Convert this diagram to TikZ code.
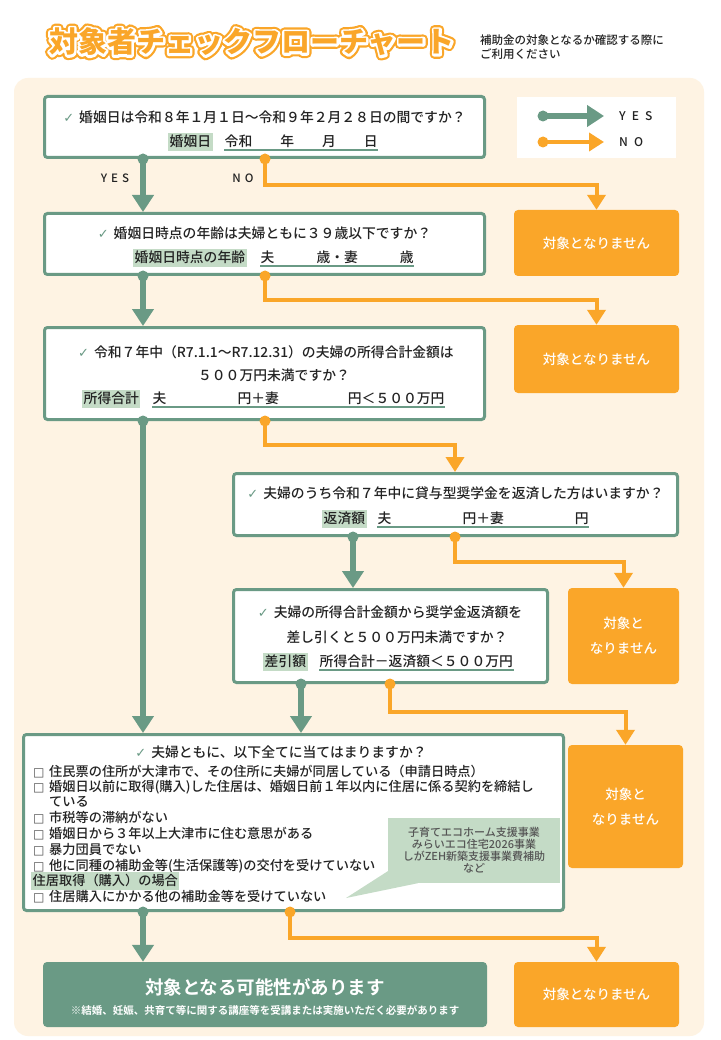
\documentclass[tikz,border=0pt]{standalone}
\usepackage{fontspec}
\setmainfont{Noto Sans CJK JP Medium}[BoldFont={Noto Sans CJK JP Bold}]
\newfontfamily\ttlfont{Noto Sans CJK JP Black}
\newfontfamily\symfont{DejaVu Sans}
\usetikzlibrary{arrows.meta}
\definecolor{gC}{RGB}{106,154,133}
\definecolor{oC}{RGB}{250,166,41}
\definecolor{creamC}{RGB}{254,243,227}
\definecolor{lblC}{RGB}{196,219,198}
\definecolor{txtC}{RGB}{35,35,35}
\definecolor{noteC}{RGB}{85,85,85}
\newcommand{\ckm}{{\symfont\color{gC}\fontsize{13}{13}\selectfont ✓}\hspace{5pt}}
\newcommand{\cbx}{\makebox[16pt][l]{\symfont\color{txtC!80}\fontsize{12}{12}\selectfont □}}
\newcommand{\strk}[2]{\special{pdf:literal direct 2 Tr #1 w 1 j}#2\special{pdf:literal direct 0 Tr}}
\tikzset{
    qbox/.style = {rectangle, draw=gC, line width=3pt, fill=white, rounded corners=3pt},
    nobox/.style = {rectangle, fill=oC, rounded corners=4pt, text=white, align=center, font=\fontsize{13.5}{25}\selectfont},
    okbox/.style = {rectangle, fill=gC, rounded corners=4pt},
    qtext/.style = {text=txtC, inner sep=0pt, font=\fontsize{13.8}{16}\selectfont},
    itext/.style = {text=txtC, inner sep=0pt, anchor=west, font=\fontsize{13.2}{16}\selectfont},
    lbl/.style = {fill=lblC, text=txtC, inner sep=1.5pt, text height=11.5pt, text depth=3pt, anchor=west, font=\fontsize{13.8}{16}\selectfont},
    field/.style = {text=txtC, inner sep=0.5pt, text height=11.5pt, text depth=3pt, anchor=west, font=\fontsize{13.8}{16}\selectfont},
    uline/.style = {draw=gC, line width=1.5pt},
    yes/.style = {draw=gC, line width=6pt, -{Triangle[width=21pt, length=17pt]}},
    no/.style = {draw=oC, line width=4pt, -{Triangle[width=18pt, length=15pt]}},
    ydot/.style = {fill=gC},
    ndot/.style = {fill=oC},
    ttl/.style = {inner sep=0pt, font=\ttlfont\fontsize{29}{29}\selectfont},
    yn/.style = {text=txtC, inner sep=0pt, font=\fontsize{11.5}{12}\selectfont}
}

\begin{document}
\begin{tikzpicture}[x=1pt, y=-1pt]
	\useasboundingbox (0,0) rectangle (720,1040);
	\fill[white] (0,0) rectangle (720,1040);
	\fill[creamC, rounded corners=14pt] (14,78) rectangle (704,1036);

	\node[ttl, text=oC] (title0) at (252,42) {\strk{9}{対象者チェックフローチャート}};
	\node[ttl, text=white] (title1) at (title0) {\strk{4.6}{対象者チェックフローチャート}};
	\node[ttl, text=oC] (title) at (title0) {対象者チェックフローチャート};
	\node[anchor=west, align=left, text=txtC, inner sep=0pt, font=\fontsize{11.5}{14}\selectfont] (hint) at (480,47) {補助金の対象となるか確認する際に\\ご利用ください};

	\node[rectangle, fill=white, minimum width=159pt, minimum height=61pt] (legend) at (596.5,127.5) {};
	\node[yn, anchor=west, font=\fontsize{12}{12}\selectfont] (lgy) at (619,116) {Y\hspace{6pt}E\hspace{6pt}S};
	\node[yn, anchor=west, font=\fontsize{12}{12}\selectfont] (lgn) at (619,142) {N\hspace{6pt}O};
	\coordinate (ly) at (543,116);
	\coordinate (ln) at (543,142);
	\draw[yes] (ly) -- ([xshift=-15pt]lgy.west);
	\draw[no] (ln) -- ([xshift=-15pt]lgn.west -| lgy.west);
	\fill[ydot] (ly) circle (5.5);
	\fill[ndot] (ln) circle (5.5);

	\node[qbox, minimum width=440pt, minimum height=61pt] (q1) at (264.5,127) {};
	\node[qbox, minimum width=440pt, minimum height=61pt] (q2) at (264.5,244) {};
	\node[qbox, minimum width=440pt, minimum height=92pt] (q3) at (264.5,373.5) {};
	\node[qbox, minimum width=444pt, minimum height=62pt] (q4) at (455.5,504.5) {};
	\node[qbox, minimum width=314pt, minimum height=93pt] (q5) at (390.5,636) {};
	\node[qbox, minimum width=540pt, minimum height=176pt] (q6) at (293.5,822.5) {};
	\node[okbox, minimum width=444pt, minimum height=65pt] (ok) at (265,994.5) {};

	\node[nobox, minimum width=165pt, minimum height=66pt] (n1) at (596.5,243) {対象となりません};
	\node[nobox, minimum width=165pt, minimum height=68pt] (n2) at (596.5,359) {対象となりません};
	\node[nobox, minimum width=111pt, minimum height=96pt] (n3) at (623.5,636) {対象と\\なりません};
	\node[nobox, minimum width=115pt, minimum height=123pt] (n4) at (625.5,806.5) {対象と\\なりません};
	\node[nobox, minimum width=165pt, minimum height=65pt] (n5) at (596.5,994.5) {対象となりません};

	\node[qtext] (q1t) at (264.5,117) {\ckm 婚姻日は令和８年１月１日～令和９年２月２８日の間ですか？};
	\node[lbl] (q1l) at (168,142) {婚姻日};
	\node[field] (q1f) at (224,142) {令和\hspace{28pt}年\hspace{28pt}月\hspace{28pt}日};
	\draw[uline] (q1f.south west) -- (q1f.south east);

	\node[qtext] (q2t) at (264.5,233) {\ckm 婚姻日時点の年齢は夫婦ともに３９歳以下ですか？};
	\node[lbl] (q2l) at (133,258) {婚姻日時点の年齢};
	\node[field] (q2f) at (260,258) {夫\hspace{42pt}歳・妻\hspace{42pt}歳};
	\draw[uline] (q2f.south west) -- (q2f.south east);

	\node[qtext] (q3t) at (266,352) {\ckm 令和７年中（R7.1.1～R7.12.31）の夫婦の所得合計金額は};
	\node[qtext] (q3u) at (274,375) {５００万円未満ですか？};
	\node[lbl] (q3l) at (82,399) {所得合計};
	\node[field] (q3f) at (152,399) {夫\hspace{71pt}円＋妻\hspace{69pt}円＜５００万円};
	\draw[uline] (q3f.south west) -- (q3f.south east);

	\node[qtext] (q4t) at (455.5,493) {\ckm 夫婦のうち令和７年中に貸与型奨学金を返済した方はいますか？};
	\node[lbl] (q4l) at (322,519) {返済額};
	\node[field] (q4f) at (377,519) {夫\hspace{71pt}円＋妻\hspace{71pt}円};
	\draw[uline] (q4f.south west) -- (q4f.south east);

	\node[qtext] (q5t) at (390,612) {\ckm 夫婦の所得合計金額から奨学金返済額を};
	\node[qtext] (q5u) at (397,637) {差し引くと５００万円未満ですか？};
	\node[lbl] (q5l) at (263,662) {差引額};
	\node[field] (q5f) at (319,662) {所得合計－返済額＜５００万円};
	\draw[uline] (q5f.south west) -- (q5f.south east);

	\node[qtext] (q6t) at (281,752) {\ckm 夫婦ともに、以下全てに当てはまりますか？};
	\node[itext] (c1) at (33,772) {\cbx 住民票の住所が大津市で、その住所に夫婦が同居している（申請日時点）};
	\node[itext] (c2) at (33,787) {\cbx 婚姻日以前に取得(購入)した住居は、婚姻日前１年以内に住居に係る契約を締結し};
	\node[itext] (c2b) at (49,802) {ている};
	\node[itext] (c3) at (33,818) {\cbx 市税等の滞納がない};
	\node[itext] (c4) at (33,834) {\cbx 婚姻日から３年以上大津市に住む意思がある};
	\node[itext] (c5) at (33,850) {\cbx 暴力団員でない};
	\node[itext] (c6) at (33,866) {\cbx 他に同種の補助金等(生活保護等)の交付を受けていない};
	\node[lbl, font=\fontsize{13.2}{16}\selectfont] (q6l) at (31,881) {住居取得（購入）の場合};
	\node[itext] (c7) at (33,897) {\cbx 住居購入にかかる他の補助金等を受けていない};

	\node[rectangle, fill=lblC, minimum width=172pt, minimum height=65pt, text=noteC, align=center, font=\fontsize{11}{12}\selectfont] (note) at (474,850.5) {子育てエコホーム支援事業\\みらいエコ住宅2026事業\\しがZEH新築支援事業費補助\\など};
	\coordinate (tip) at (346,898);
	\fill[lblC] ([yshift=12pt]note.south west) -- (tip) -- ([xshift=30pt]note.south west) -- cycle;

	\node[text=white, inner sep=0pt, font=\fontsize{18.5}{20}\selectfont\bfseries] (ok1) at (265,987) {対象となる可能性があります};
	\node[text=white, inner sep=0pt, font=\fontsize{10.5}{12}\selectfont\bfseries] (ok2) at (265,1010) {※結婚、妊娠、共育て等に関する講座等を受講または実施いただく必要があります};

	\node[yn] (yesl) at (115,178) {Y\hspace{4pt}E\hspace{4pt}S};
	\node[yn] (nol) at (243,178) {N\hspace{4pt}O};

	\coordinate (g1) at (143,0);
	\coordinate (o1) at (265,0);
	\coordinate (g4) at (353,0);
	\coordinate (o4) at (455,0);
	\coordinate (g5) at (301,0);
	\coordinate (o5) at (390,0);
	\coordinate (o6) at (290,0);

	\draw[yes] (q1.south -| g1) -- (q2.north -| g1);
	\draw[yes] (q2.south -| g1) -- (q3.north -| g1);
	\draw[yes] (q3.south -| g1) -- (q6.north -| g1);
	\draw[yes] (q4.south -| g4) -- (q5.north -| g4);
	\draw[yes] (q5.south -| g5) -- (q6.north -| g5);
	\draw[yes] (q6.south -| g1) -- (ok.north -| g1);

	\draw[no] (q1.south -| o1) -- ++(0,26) -| (n1.north);
	\draw[no] (q2.south -| o1) -- ++(0,24) -| (n2.north);
	\draw[no] (q3.south -| o1) -- ++(0,24) -| (q4.north -| o4);
	\draw[no] (q4.south -| o4) -- ++(0,25) -| (n3.north);
	\draw[no] (q5.south -| o5) -- ++(0,28) -| (n4.north);
	\draw[no] (q6.south -| o6) -- ++(0,26) -| (n5.north);

	\fill[ydot] (q1.south -| g1) circle (5.5);
	\fill[ydot] (q2.south -| g1) circle (5.5);
	\fill[ydot] (q3.south -| g1) circle (5.5);
	\fill[ydot] (q4.south -| g4) circle (5.5);
	\fill[ydot] (q5.south -| g5) circle (5.5);
	\fill[ydot] (q6.south -| g1) circle (5.5);
	\fill[ndot] (q1.south -| o1) circle (5.5);
	\fill[ndot] (q2.south -| o1) circle (5.5);
	\fill[ndot] (q3.south -| o1) circle (5.5);
	\fill[ndot] (q4.south -| o4) circle (5.5);
	\fill[ndot] (q5.south -| o5) circle (5.5);
	\fill[ndot] (q6.south -| o6) circle (5.5);
\end{tikzpicture}
\end{document}
